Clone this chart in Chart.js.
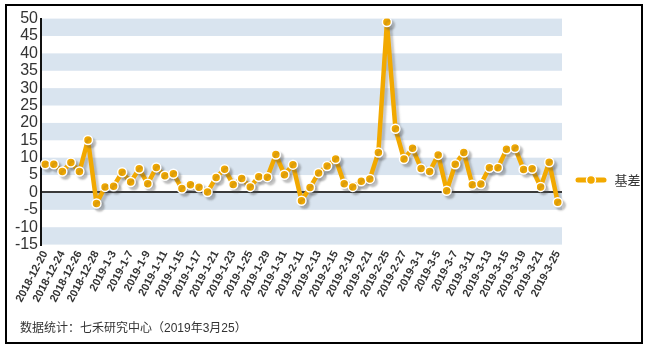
<!DOCTYPE html>
<html lang="zh-CN">
<head>
<meta charset="UTF-8">
<title>基差</title>
<script src="https://cdn.jsdelivr.net/npm/chart.js"></script>
<style>
  body { margin: 0; background: #fff; }
  .frame { position: absolute; left: 5px; top: 4px; width: 634px; height: 336px; border: 2px solid #000; }
  .frame canvas { display: block; }
</style>
</head>
<body>
<div class="frame"><canvas id="basisChart" width="634" height="336"></canvas></div>
<script>
// trading days shown on the x axis
const dates = [
  '2018-12-20', '2018-12-21', '2018-12-24', '2018-12-25', '2018-12-26', '2018-12-27', '2018-12-28',
  '2019-1-2', '2019-1-3', '2019-1-4', '2019-1-7', '2019-1-8', '2019-1-9', '2019-1-10', '2019-1-11',
  '2019-1-14', '2019-1-15', '2019-1-16', '2019-1-17', '2019-1-18', '2019-1-21', '2019-1-22',
  '2019-1-23', '2019-1-24', '2019-1-25', '2019-1-28', '2019-1-29', '2019-1-30', '2019-1-31',
  '2019-2-1', '2019-2-11', '2019-2-12', '2019-2-13', '2019-2-14', '2019-2-15', '2019-2-18',
  '2019-2-19', '2019-2-20', '2019-2-21', '2019-2-22', '2019-2-25', '2019-2-26', '2019-2-27',
  '2019-2-28', '2019-3-1', '2019-3-4', '2019-3-5', '2019-3-6', '2019-3-7', '2019-3-8',
  '2019-3-11', '2019-3-12', '2019-3-13', '2019-3-14', '2019-3-15', '2019-3-18', '2019-3-19',
  '2019-3-20', '2019-3-21', '2019-3-22', '2019-3-25'
];

// 基差
const basis = [
  8.1, 8.1, 6.0, 8.6, 6.0, 15.1, -3.2,
  1.6, 1.8, 5.8, 3.0, 6.8, 2.5, 7.2, 4.8,
  5.4, 1.1, 2.2, 1.5, 0.1, 4.3, 6.7,
  2.3, 4.0, 1.6, 4.5, 4.4, 10.9, 5.1,
  8.0, -2.4, 1.4, 5.6, 7.6, 9.6, 2.5,
  1.6, 3.2, 3.9, 11.5, 49.0, 18.3, 9.6,
  12.7, 6.9, 6.0, 10.8, 0.5, 8.1, 11.5,
  2.2, 2.4, 7.1, 7.1, 12.4, 12.8, 6.6,
  6.8, 1.6, 8.7, -2.8
];

const yMin = -15;
const yMax = 50;
const yStep = 5;

const lineColor = '#F2A900';
const bandColor = '#D9E4EF';
const fontFamily = "'Liberation Sans', Arial, 'Noto Sans CJK SC', sans-serif";

// legend marker: short thick line with a dot on it
const mark = document.createElement('canvas');
mark.width = 32;
mark.height = 12;
const m = mark.getContext('2d');
m.strokeStyle = lineColor;
m.lineWidth = 5;
m.lineCap = 'round';
m.beginPath();
m.moveTo(3, 6);
m.lineTo(29, 6);
m.stroke();
m.fillStyle = lineColor;
m.strokeStyle = '#fff';
m.lineWidth = 1.5;
m.beginPath();
m.arc(16, 6, 4.5, 0, Math.PI * 2);
m.fill();
m.stroke();

// alternating horizontal bands behind the plot
const bandPlugin = {
  id: 'bands',
  beforeDraw(chart) {
    const { ctx, chartArea, scales: { y } } = chart;
    ctx.save();
    ctx.fillStyle = bandColor;
    for (let v = yMax; v > yMin; v -= yStep * 2) {
      const top = y.getPixelForValue(v);
      const bottom = y.getPixelForValue(v - yStep);
      ctx.fillRect(chartArea.left, top, chartArea.right - chartArea.left, bottom - top);
    }
    ctx.restore();
  }
};

// soft drop shadow under the line
const shadowPlugin = {
  id: 'lineShadow',
  beforeDatasetsDraw(chart) {
    const ctx = chart.ctx;
    ctx.save();
    ctx.shadowColor = 'rgba(80, 80, 80, 0.3)';
    ctx.shadowOffsetX = 3;
    ctx.shadowOffsetY = 3;
    ctx.shadowBlur = 2;
  },
  afterDatasetsDraw(chart) {
    chart.ctx.restore();
  }
};

// footer note sits a little in from the left frame
const footerIndent = {
  id: 'footerIndent',
  afterLayout(chart) {
    if (chart.titleBlock) chart.titleBlock.left += 13;
  }
};

new Chart(document.getElementById('basisChart'), {
  type: 'line',
  data: {
    labels: dates,
    datasets: [{
      label: '基差',
      data: basis,
      borderColor: lineColor,
      backgroundColor: lineColor,
      borderWidth: 4.5,
      borderJoinStyle: 'round',
      pointRadius: 4.5,
      pointBackgroundColor: lineColor,
      pointBorderColor: '#fff',
      pointBorderWidth: 1.5,
      tension: 0
    }]
  },
  options: {
    responsive: false,
    animation: false,
    layout: { padding: { left: 0, top: 12, right: 0, bottom: 0 } },
    plugins: {
      legend: {
        position: 'right',
        maxWidth: 79,
        labels: {
          usePointStyle: true,
          pointStyle: mark,
          pointStyleWidth: 34,
          padding: 12,
          color: '#333',
          font: { size: 13, family: "'Noto Sans CJK SC', sans-serif" }
        }
      },
      title: {
        display: true,
        position: 'bottom',
        align: 'start',
        text: '数据统计：七禾研究中心（2019年3月25）',
        color: '#333',
        font: { size: 12, weight: 'normal', family: fontFamily },
        padding: { top: 15, bottom: 6 }
      },
      tooltip: { enabled: false }
    },
    scales: {
      x: {
        offset: true,
        grid: { display: false, drawTicks: false },
        border: { display: false },
        ticks: {
          autoSkip: false,
          maxRotation: 62,
          minRotation: 62,
          padding: 4,
          color: '#333',
          font: { size: 11, weight: 'bold', family: fontFamily },
          callback: (val, i) => (i % 2 === 0 ? dates[i] : '')
        },
        afterFit(scale) { scale.height = 62; }
      },
      y: {
        min: yMin,
        max: yMax,
        ticks: {
          stepSize: yStep,
          autoSkip: false,
          padding: 3,
          color: '#333',
          font: { size: 16, family: fontFamily }
        },
        grid: {
          drawTicks: false,
          lineWidth: 2,
          color: (c) => (c.tick && c.tick.value === 0 ? '#3a3a3a' : 'rgba(0,0,0,0)')
        },
        border: { display: true, color: '#111', width: 2 },
        afterFit(scale) { scale.width = 34; }
      }
    }
  },
  plugins: [bandPlugin, shadowPlugin, footerIndent]
});
</script>
</body>
</html>
